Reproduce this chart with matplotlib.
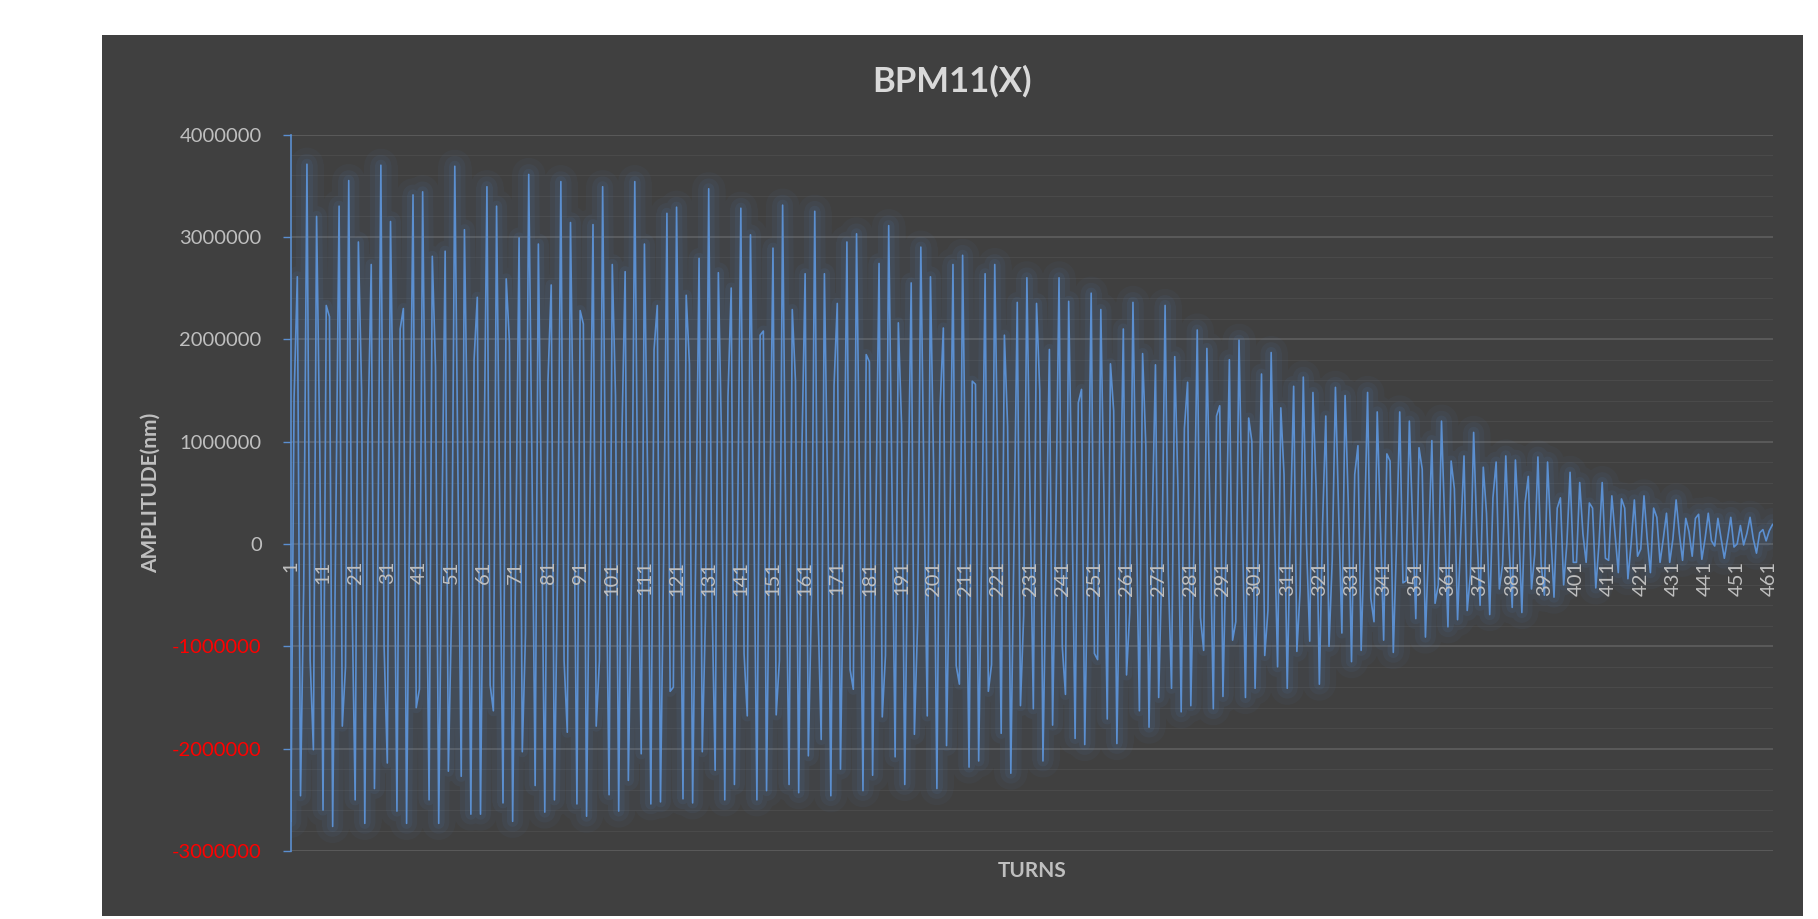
import matplotlib
matplotlib.use("Agg")
import matplotlib.pyplot as plt
import numpy as np
from matplotlib.ticker import FixedLocator, MultipleLocator, FuncFormatter

# BPM11 horizontal position per turn, in mm (1 mm = 1e6 nm)
amp_mm_001_100 = [
    -2.71, 1.43, 2.61, -2.46, -0.4, 3.71, -1.14, -2.01, 3.2, 0.9,
    -2.6, 2.33, 2.22, -2.76, 0.26, 3.3, -1.78, -1.2, 3.55, -0.49,
    -2.5, 2.95, 1.5, -2.73, 1.09, 2.73, -2.39, -0.3, 3.7, -1.0,
    -2.14, 3.15, 0.8, -2.61, 2.1, 2.3, -2.73, 0.5, 3.41, -1.6,
    -1.42, 3.44, 0.4, -2.5, 2.81, 1.73, -2.73, 0.2, 2.86, -2.22,
    -0.65, 3.69, 0.6, -2.27, 3.07, 0.87, -2.64, 1.8, 2.41, -2.64,
    0.5, 3.49, -1.38, -1.63, 3.3, 0.3, -2.53, 2.59, 1.97, -2.71,
    0.0, 2.99, -2.03, -0.88, 3.61, 0.8, -2.36, 2.93, 0.3, -2.62,
    1.6, 2.53, -2.5, -0.2, 3.54, -1.14, -1.84, 3.14, 0.7, -2.54,
    2.28, 2.15, -2.66, 0.3, 3.12, -1.78, -1.14, 3.49, 0.2, -2.45,
]
amp_mm_101_200 = [
    2.73, 1.45, -2.61, 1.06, 2.66, -2.31, -0.3, 3.54, 0.1, -2.05,
    2.93, 0.64, -2.54, 1.9, 2.33, -2.52, -0.1, 3.23, -1.44, -1.4,
    3.29, 0.5, -2.49, 2.43, 1.76, -2.53, 0.0, 2.79, -2.03, -0.7,
    3.47, -0.49, -2.21, 2.65, 1.0, -2.5, 1.44, 2.5, -2.35, 0.2,
    3.28, -1.07, -1.68, 3.02, 0.4, -2.5, 2.04, 2.08, -2.41, 0.3,
    2.89, -1.67, -1.14, 3.31, 0.1, -2.35, 2.29, 1.59, -2.43, 0.92,
    2.64, -2.07, -0.5, 3.25, -0.63, -1.91, 2.64, 0.5, -2.46, 1.55,
    2.35, -2.2, 0.0, 2.95, -1.23, -1.42, 3.03, 0.4, -2.41, 1.85,
    1.78, -2.26, 0.2, 2.74, -1.69, -1.09, 3.11, 0.6, -2.08, 2.16,
    1.17, -2.35, 0.3, 2.55, -1.86, -0.77, 2.9, 0.5, -1.68, 2.61,
]
amp_mm_201_300 = [
    0.7, -2.39, 1.34, 2.11, -1.97, 0.0, 2.73, -1.19, -1.37, 2.82,
    0.3, -2.18, 1.59, 1.56, -2.12, 0.1, 2.64, -1.44, -1.18, 2.73,
    0.6, -1.85, 2.04, 1.15, -2.24, 0.1, 2.36, -1.58, -0.7, 2.6,
    0.4, -1.61, 2.35, 1.5, -2.12, -0.1, 1.9, -1.77, 0.2, 2.6,
    -1.0, -1.47, 2.37, 0.45, -1.9, 1.38, 1.51, -1.96, 0.0, 2.45,
    -1.07, -1.13, 2.29, 0.4, -1.71, 1.76, 1.3, -1.95, 0.1, 2.1,
    -1.28, -0.67, 2.36, 0.3, -1.63, 1.86, 0.96, -1.79, 0.2, 1.75,
    -1.5, -0.2, 2.33, -0.3, -1.41, 1.83, 0.54, -1.64, 1.13, 1.58,
    -1.58, 0.0, 2.09, -0.72, -1.04, 1.91, 0.21, -1.61, 1.25, 1.35,
    -1.49, 0.0, 1.8, -0.94, -0.76, 1.99, 0.3, -1.5, 1.23, 1.0,
]
amp_mm_301_400 = [
    -1.41, 0.0, 1.66, -1.09, -0.65, 1.87, 0.2, -1.2, 1.33, 0.68,
    -1.41, 0.2, 1.54, -1.05, -0.46, 1.63, 0.0, -0.95, 1.48, 0.53,
    -1.37, 0.2, 1.25, -1.0, -0.16, 1.53, 0.3, -0.87, 1.45, 0.4,
    -1.15, 0.68, 0.96, -1.04, 0.07, 1.48, -0.53, -0.76, 1.29, 0.18,
    -0.94, 0.88, 0.81, -1.06, 0.0, 1.29, -0.38, -0.36, 1.2, 0.2,
    -0.73, 0.94, 0.73, -0.91, 0.0, 1.01, -0.58, -0.4, 1.2, 0.2,
    -0.81, 0.81, 0.54, -0.74, 0.1, 0.86, -0.65, -0.3, 1.09, 0.1,
    -0.6, 0.75, 0.3, -0.69, 0.45, 0.8, -0.44, -0.2, 0.86, 0.0,
    -0.62, 0.82, 0.2, -0.67, 0.4, 0.66, -0.44, -0.1, 0.85, -0.2,
    -0.5, 0.8, 0.1, -0.52, 0.35, 0.45, -0.4, 0.0, 0.7, -0.18,
]
amp_mm_401_462 = [
    -0.18, 0.6, 0.1, -0.18, 0.4, 0.35, -0.43, 0.0, 0.6, -0.14,
    -0.16, 0.47, 0.1, -0.28, 0.44, 0.35, -0.34, 0.0, 0.43, -0.12,
    -0.05, 0.47, 0.05, -0.28, 0.35, 0.26, -0.18, 0.05, 0.3, -0.18,
    0.05, 0.43, 0.1, -0.16, 0.25, 0.12, -0.12, 0.25, 0.29, -0.15,
    0.05, 0.3, 0.03, -0.02, 0.25, 0.05, -0.14, 0.05, 0.26, -0.03,
    0.0, 0.18, -0.01, 0.1, 0.26, 0.05, -0.09, 0.11, 0.14, 0.03,
    0.13, 0.19,
]

y_major = [-3000000, -2000000, -1000000, 0, 1000000, 2000000, 3000000, 4000000]
label_every = 10

amp_nm = np.array(amp_mm_001_100 + amp_mm_101_200 + amp_mm_201_300
                  + amp_mm_301_400 + amp_mm_401_462) * 1e6
turns = np.arange(1, len(amp_nm) + 1)

BG = "#404040"
LINE = "#5b8fd0"
TXT = "#bfbfbf"
TITLE = "#d9d9d9"
GRID_MAJOR = "#5f5f5f"
GRID_MINOR = "#4a4a4a"

plt.rcParams["font.family"] = ["Lato", "DejaVu Sans"]

fig = plt.figure(figsize=(18.18, 9.19), dpi=100, facecolor="white")

# dark chart area
bg = fig.add_axes([0.0561, 0.0033, 0.9356, 0.9586], zorder=0)
bg.set_facecolor(BG)
bg.set_xticks([])
bg.set_yticks([])
for s in bg.spines.values():
    s.set_visible(False)

ax = fig.add_axes([0.160, 0.074, 0.815, 0.7796], zorder=1)
ax.patch.set_alpha(0)

# soft glow under the trace, then the trace itself
for glow_lw, glow_alpha in [(24, 0.045), (15, 0.06), (8, 0.08)]:
    ax.plot(turns, amp_nm, color=LINE, lw=glow_lw, alpha=glow_alpha,
            solid_joinstyle="round", solid_capstyle="round", zorder=2)
ax.plot(turns, amp_nm, color=LINE, lw=1.2, zorder=3)

ax.set_xlim(turns[0], turns[-1])
ax.set_ylim(y_major[0], y_major[-1])

ax.yaxis.set_major_locator(FixedLocator(y_major))
ax.yaxis.set_minor_locator(MultipleLocator(200000))
ax.yaxis.set_major_formatter(FuncFormatter(lambda v, p: f"{int(round(v))}"))
ax.grid(which="major", axis="y", color=GRID_MAJOR, lw=1.2)
ax.grid(which="minor", axis="y", color=GRID_MINOR, lw=0.8)
ax.tick_params(axis="y", which="major", direction="out", length=6, width=1,
               color=LINE, labelsize=14.5, labelcolor=TXT, pad=15)
ax.tick_params(axis="y", which="minor", left=False, length=0)
ax.tick_params(axis="x", which="both", length=0, labelbottom=False)
for name in ("top", "right", "bottom"):
    ax.spines[name].set_visible(False)
ax.spines["left"].set_color(LINE)
ax.spines["left"].set_linewidth(1.2)

fig.canvas.draw()
for lbl, v in zip(ax.get_yticklabels(), y_major):
    if v < 0:
        lbl.set_color("#ff0000")

# category labels sit on the zero line, drawn over the trace
ax_lab = fig.add_axes(ax.get_position(), sharex=ax, sharey=ax, zorder=3)
ax_lab.patch.set_visible(False)
for name in ("top", "right", "left"):
    ax_lab.spines[name].set_visible(False)
ax_lab.spines["bottom"].set_position(("data", 0))
ax_lab.spines["bottom"].set_visible(False)
ax_lab.set_xticks(turns[::label_every])
ax_lab.set_xticklabels([str(t) for t in turns[::label_every]])
ax_lab.tick_params(axis="x", which="both", length=0, labelsize=14.5,
                   labelcolor=TXT, labelrotation=90, pad=12)
ax_lab.yaxis.set_visible(False)

fig.text(0.5237, 0.9119, "BPM11(X)", ha="center", va="center",
         fontsize=25, fontweight="bold", color=TITLE)
fig.text(0.083, 0.4636, "AMPLITUDE(nm)", ha="center", va="center",
         rotation=90, fontsize=15, fontweight="bold", color=TXT)
fig.text(0.5677, 0.0522, "TURNS", ha="center", va="center",
         fontsize=15, fontweight="bold", color=TXT)

fig.savefig("out.png", dpi=100, facecolor="white")
